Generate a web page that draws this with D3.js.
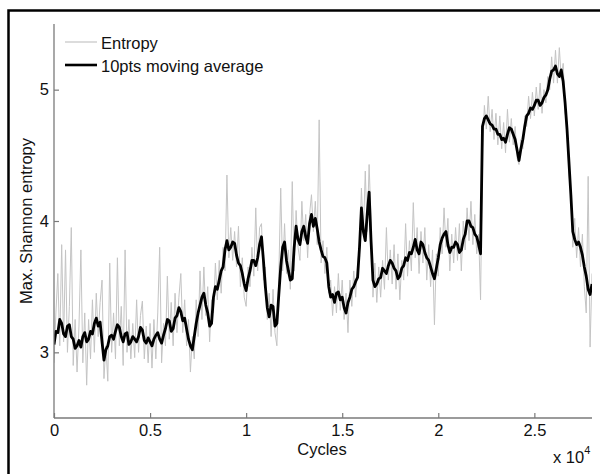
<!DOCTYPE html>
<html>
<head>
<meta charset="utf-8">
<script src="https://cdn.jsdelivr.net/npm/d3@7"></script>
<style>
  html, body { margin: 0; padding: 0; background: #fff; }
  svg { display: block; }
  text { font-family: "Liberation Sans", Arial, sans-serif; }
</style>
</head>
<body>
<svg id="chart" width="600" height="474"></svg>
<script>
// ---- data ----
const rawStep = 100;   // cycles between raw entropy samples
const entropyRaw = [
  2.92,3.30,3.60,3.05,3.82,3.08,3.78,3.00,3.35,3.95,
  2.90,3.25,2.85,3.20,3.78,2.92,3.30,2.75,3.25,2.95,
  3.40,3.00,3.45,3.12,3.38,3.55,2.80,3.05,2.78,3.68,
  3.00,3.30,2.95,3.72,3.05,3.35,2.90,3.78,3.00,3.25,
  2.95,3.22,2.96,3.40,3.00,3.28,3.39,2.95,3.20,2.92,
  3.22,2.88,3.25,2.95,3.30,3.80,2.92,3.22,3.05,3.58,
  3.10,3.38,3.05,3.45,3.15,3.42,3.60,3.15,3.40,3.05,
  3.25,2.85,3.12,2.95,3.40,3.12,3.62,3.25,3.65,3.28,
  3.50,3.08,3.40,3.30,3.68,3.40,3.70,3.45,3.80,3.62,
  4.35,3.72,3.95,3.70,3.92,3.65,3.96,3.50,3.72,3.42,
  3.35,3.65,3.50,3.80,3.58,4.10,3.62,3.95,3.98,3.55,
  3.65,3.25,3.45,3.12,3.48,3.15,3.05,3.58,4.25,3.62,
  3.98,3.60,3.78,3.48,4.30,3.62,4.08,3.80,3.70,4.15,
  3.85,4.05,3.72,4.05,4.20,3.92,4.15,3.82,4.77,3.68,
  3.85,3.60,3.80,3.45,3.55,3.28,3.50,3.30,3.60,3.32,
  3.55,3.25,3.45,3.15,3.55,3.35,3.62,3.42,3.68,3.80,
  4.25,3.90,4.38,3.92,4.43,4.00,3.42,3.68,3.38,3.65,
  3.42,3.70,3.48,3.95,3.55,3.78,3.52,3.82,3.48,3.75,
  3.40,3.70,3.55,3.98,3.58,3.85,3.62,4.14,3.72,3.95,
  3.60,3.92,3.68,3.95,3.55,3.82,3.50,3.78,3.21,3.75,
  3.58,3.95,3.75,4.10,3.80,4.02,3.62,3.90,3.68,3.95,
  3.70,3.98,3.62,4.00,3.78,4.10,3.85,4.15,3.82,4.05,
  3.75,3.90,3.40,4.55,4.88,4.70,4.95,4.68,4.85,4.62,
  4.82,4.58,4.80,4.55,4.75,4.52,4.85,4.60,4.78,4.58,
  4.72,4.48,4.43,4.62,4.55,4.80,4.72,4.95,4.78,4.98,
  4.80,5.02,4.85,5.05,4.82,5.00,4.90,5.10,5.00,5.25,
  5.05,5.30,5.05,5.32,5.08,5.20,4.82,4.75,4.35,4.21,
  3.80,4.02,3.72,3.95,3.65,3.90,3.50,3.30,4.34,3.04,
  3.60
];
const avgStep = 100;   // cycles between moving-average samples
const movingAvg = [
  3.06,3.16,3.15,3.25,3.22,3.14,3.12,3.20,3.21,3.12,
  3.10,3.03,3.05,3.09,3.04,3.12,3.15,3.08,3.10,3.16,
  3.14,3.22,3.26,3.20,3.23,3.08,2.94,3.02,3.05,3.12,
  3.13,3.10,3.16,3.21,3.19,3.12,3.08,3.14,3.15,3.06,
  3.08,3.12,3.10,3.08,3.12,3.19,3.17,3.09,3.07,3.11,
  3.08,3.05,3.10,3.13,3.15,3.10,3.07,3.13,3.18,3.25,
  3.24,3.16,3.18,3.26,3.28,3.34,3.31,3.24,3.26,3.18,
  3.10,3.05,3.02,3.12,3.22,3.30,3.36,3.42,3.45,3.36,
  3.30,3.20,3.22,3.42,3.50,3.48,3.55,3.62,3.65,3.78,
  3.85,3.78,3.80,3.84,3.83,3.74,3.68,3.66,3.60,3.52,
  3.47,3.56,3.62,3.70,3.70,3.66,3.72,3.82,3.88,3.70,
  3.50,3.34,3.27,3.36,3.35,3.20,3.22,3.44,3.65,3.80,
  3.84,3.70,3.62,3.55,3.56,3.80,3.96,3.86,3.82,3.92,
  3.96,3.88,3.83,3.98,4.05,3.96,4.02,3.94,3.84,3.78,
  3.73,3.72,3.68,3.50,3.42,3.44,3.38,3.45,3.46,3.40,
  3.42,3.34,3.30,3.38,3.42,3.48,3.50,3.54,3.57,3.80,
  4.10,3.92,3.85,4.05,4.22,3.85,3.55,3.50,3.52,3.56,
  3.57,3.64,3.62,3.60,3.66,3.70,3.68,3.64,3.62,3.56,
  3.58,3.64,3.66,3.72,3.70,3.76,3.75,3.80,3.86,3.78,
  3.75,3.84,3.82,3.76,3.72,3.70,3.65,3.60,3.56,3.64,
  3.72,3.82,3.87,3.90,3.92,3.82,3.76,3.80,3.80,3.84,
  3.82,3.76,3.78,3.86,3.90,4.00,4.00,3.96,3.95,3.90,
  3.88,3.82,3.75,4.72,4.78,4.80,4.77,4.74,4.73,4.70,
  4.70,4.66,4.66,4.62,4.63,4.60,4.66,4.71,4.70,4.66,
  4.62,4.54,4.46,4.55,4.62,4.72,4.80,4.82,4.86,4.85,
  4.88,4.92,4.92,4.88,4.90,4.94,4.96,5.00,5.08,5.14,
  5.15,5.18,5.12,5.10,5.15,5.06,4.90,4.70,4.45,4.20,
  3.92,3.86,3.82,3.84,3.80,3.74,3.65,3.58,3.48,3.44,
  3.52
];
const xTicks = [0, 5000, 10000, 15000, 20000, 25000];
const xTickLabels = ["0", "0.5", "1", "1.5", "2", "2.5"];
const yTicks = [3, 4, 5];
const xDomain = [0, 28000];
const yDomain = [2.5, 5.5];
const seriesNames = ["Entropy", "10pts moving average"];

// ---- drawing ----
const svg = d3.select("#chart");
const m = { left: 54, right: 592, top: 24, bottom: 418 };
const x = d3.scaleLinear().domain(xDomain).range([m.left, m.right]);
const y = d3.scaleLinear().domain(yDomain).range([m.bottom, m.top]);

// outer frame (only top/left visible in the crop)
svg.append("rect").attr("x", 8.5).attr("y", 10.5).attr("width", 620).attr("height", 500)
  .attr("fill", "none").attr("stroke", "#000").attr("stroke-width", 2.5);

svg.append("clipPath").attr("id", "clip").append("rect")
  .attr("x", m.left).attr("y", m.top).attr("width", m.right - m.left).attr("height", m.bottom - m.top);

const line = d3.line().x(d => x(d[0])).y(d => y(d[1]));
const rawData = entropyRaw.map((v, i) => [i * rawStep, v]);
const avgData = movingAvg.map((v, i) => [i * avgStep, v]);

const plot = svg.append("g").attr("clip-path", "url(#clip)");
plot.append("path").datum(rawData).attr("d", line)
  .attr("fill", "none").attr("stroke", "#c4c4c4").attr("stroke-width", 1);
plot.append("path").datum(avgData).attr("d", line)
  .attr("fill", "none").attr("stroke", "#000").attr("stroke-width", 2.8)
  .attr("stroke-linejoin", "round");

// axes
const axisColor = "#7a7a7a";
const xAxis = svg.append("g").attr("transform", `translate(0,${m.bottom})`)
  .call(d3.axisBottom(x).tickValues(xTicks).tickFormat((d, i) => xTickLabels[i]).tickSize(-5).tickPadding(6));
const yAxis = svg.append("g").attr("transform", `translate(${m.left},0)`)
  .call(d3.axisLeft(y).tickValues(yTicks).tickFormat(d3.format("d")).tickSize(-5).tickPadding(5));
[xAxis, yAxis].forEach(a => {
  a.select(".domain").attr("stroke", axisColor).attr("stroke-width", 1.3);
  a.selectAll(".tick line").attr("stroke", axisColor).attr("stroke-width", 1.2);
  a.selectAll(".tick text").attr("fill", "#111").attr("font-size", "16.5px")
    .attr("font-family", "'Liberation Sans', Arial, sans-serif");
});
xAxis.select(".domain").attr("d", `M${m.left},0H${m.right}`);
yAxis.select(".domain").attr("d", `M0,${m.bottom}V${m.top}`);

// axis titles
svg.append("text").attr("x", 322).attr("y", 455).attr("text-anchor", "middle")
  .attr("font-size", "16.5px").attr("fill", "#111").text("Cycles");
svg.append("text").attr("transform", "translate(32,221) rotate(-90)").attr("text-anchor", "middle")
  .attr("font-size", "16.5px").attr("fill", "#111").text("Max. Shannon entropy");
const mult = svg.append("text").attr("x", 553).attr("y", 463).attr("font-size", "16.5px").attr("fill", "#111");
mult.append("tspan").text("x 10");
mult.append("tspan").attr("dy", -9).attr("font-size", "11px").text("4");

// legend
const legend = svg.append("g");
const legendStyles = [
  { stroke: "#c4c4c4", width: 1.2 },
  { stroke: "#000", width: 2.6 }
];
seriesNames.forEach((name, i) => {
  const ly = 42 + i * 23;
  legend.append("line").attr("x1", 65).attr("x2", 97).attr("y1", ly).attr("y2", ly)
    .attr("stroke", legendStyles[i].stroke).attr("stroke-width", legendStyles[i].width);
  legend.append("text").attr("x", 101).attr("y", ly + 6.5).attr("font-size", "16.5px")
    .attr("fill", "#111").text(name);
});
</script>
</body>
</html>
